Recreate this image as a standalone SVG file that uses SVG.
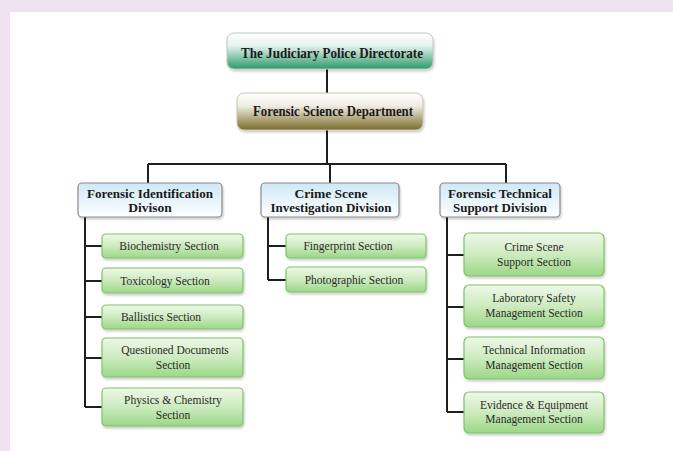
<svg xmlns="http://www.w3.org/2000/svg" width="673" height="451" viewBox="0 0 673 451">
<defs>
<linearGradient id="gTop" x1="0" y1="0" x2="0" y2="1">
<stop offset="0" stop-color="#ffffff"/><stop offset="0.35" stop-color="#e6f3ee"/><stop offset="1" stop-color="#2b9a6c"/>
</linearGradient>
<linearGradient id="gDept" x1="0" y1="0" x2="0" y2="1">
<stop offset="0" stop-color="#ffffff"/><stop offset="0.35" stop-color="#efece2"/><stop offset="1" stop-color="#7a6b28"/>
</linearGradient>
<linearGradient id="gDiv" x1="0" y1="0" x2="0" y2="1">
<stop offset="0" stop-color="#cfe8f7"/><stop offset="1" stop-color="#ffffff"/>
</linearGradient>
<linearGradient id="gSec" x1="0" y1="0" x2="0" y2="1">
<stop offset="0" stop-color="#eef8e8"/><stop offset="0.5" stop-color="#cdebbf"/><stop offset="1" stop-color="#9bd787"/>
</linearGradient>
<filter id="sh" x="-10%" y="-20%" width="120%" height="150%">
<feDropShadow dx="1" dy="2" stdDeviation="1.2" flood-color="#000" flood-opacity="0.2"/>
</filter>
</defs>
<style>
.top{fill:url(#gTop);stroke:#b9c9c2;stroke-width:1;filter:url(#sh)}
.dept{fill:url(#gDept);stroke:#c8c4b6;stroke-width:1;filter:url(#sh)}
.div{fill:url(#gDiv);stroke:#8a8a8a;stroke-width:1.2;filter:url(#sh)}
.sec{fill:url(#gSec);stroke:#7cc36a;stroke-width:1.2;filter:url(#sh)}
.h{font-family:"Liberation Serif",serif;font-weight:bold;fill:#1a1a1a;text-anchor:middle}
.s{font-family:"Liberation Serif",serif;font-size:11.5px;fill:#2a2a2a;text-anchor:middle}
.c{stroke:#1e1e1e;stroke-width:2;fill:none}
</style>
<rect x="0" y="0" width="673" height="451" fill="#eee2f0"/>
<rect x="10" y="12" width="663" height="439" fill="#ffffff"/>

<g id="connectors">
<path class="c" d="M327 69V93M327 130V164M148 164H506M148 164V183M330 164V183M506 164V183"/>
<path class="c" d="M85 217V407M85 246H102M85 281H102M85 317H102M85 358H102M85 407H102"/>
<path class="c" d="M268 217V280M268 246H286M268 280H286"/>
<path class="c" d="M447 217V412M447 255H464M447 307H464M447 359H464M447 412H464"/>
</g>

<g id="judiciary">
<rect class="top" x="227" y="33" width="206" height="36" rx="7"/>
<text class="h" x="332" y="57.5" font-size="14.5" textLength="182" lengthAdjust="spacingAndGlyphs">The Judiciary Police Directorate</text>
</g>
<g id="forensic-science">
<rect class="dept" x="237" y="93" width="186" height="37" rx="7"/>
<text class="h" x="333" y="116" font-size="14.5" textLength="160" lengthAdjust="spacingAndGlyphs">Forensic Science Department</text>
</g>

<g id="div-identification">
<rect class="div" x="78" y="183" width="144" height="34" rx="4"/>
<text class="h" x="150" y="198" font-size="13.5" textLength="126" lengthAdjust="spacingAndGlyphs">Forensic Identification</text>
<text class="h" x="150" y="212" font-size="13.5">Divison</text>
</g>
<g id="div-crime-scene">
<rect class="div" x="261" y="183" width="138" height="34" rx="4"/>
<text class="h" x="331" y="198" font-size="13.5">Crime Scene</text>
<text class="h" x="331" y="212" font-size="13.5" textLength="121" lengthAdjust="spacingAndGlyphs">Investigation Division</text>
</g>
<g id="div-technical">
<rect class="div" x="440" y="183" width="120" height="34" rx="4"/>
<text class="h" x="500" y="198" font-size="13.5" textLength="104" lengthAdjust="spacingAndGlyphs">Forensic Technical</text>
<text class="h" x="500" y="212" font-size="13.5" textLength="94" lengthAdjust="spacingAndGlyphs">Support Division</text>
</g>

<g id="sec-biochemistry">
<rect class="sec" x="102" y="234" width="141" height="24" rx="4"/>
<text class="s" x="169" y="250">Biochemistry Section</text>
</g>
<g id="sec-toxicology">
<rect class="sec" x="102" y="268" width="141" height="25" rx="4"/>
<text class="s" x="165" y="284.5">Toxicology Section</text>
</g>
<g id="sec-ballistics">
<rect class="sec" x="102" y="305" width="141" height="24" rx="4"/>
<text class="s" x="161" y="321">Ballistics Section</text>
</g>
<g id="sec-questioned">
<rect class="sec" x="102" y="338" width="141" height="39" rx="4"/>
<text class="s" x="175" y="354">Questioned Documents</text>
<text class="s" x="173" y="368.5">Section</text>
</g>
<g id="sec-physics">
<rect class="sec" x="102" y="388" width="141" height="38" rx="4"/>
<text class="s" x="173" y="404">Physics &amp; Chemistry</text>
<text class="s" x="173" y="418.5">Section</text>
</g>

<g id="sec-fingerprint">
<rect class="sec" x="286" y="234" width="140" height="24" rx="4"/>
<text class="s" x="348" y="250">Fingerprint Section</text>
</g>
<g id="sec-photographic">
<rect class="sec" x="286" y="267" width="140" height="25" rx="4"/>
<text class="s" x="354" y="283.5">Photographic Section</text>
</g>

<g id="sec-cs-support">
<rect class="sec" x="464" y="233" width="140" height="43" rx="5"/>
<text class="s" x="534" y="251">Crime Scene</text>
<text class="s" x="534" y="265.5">Support Section</text>
</g>
<g id="sec-lab-safety">
<rect class="sec" x="464" y="285" width="140" height="42" rx="5"/>
<text class="s" x="534" y="302">Laboratory Safety</text>
<text class="s" x="534" y="316.5">Management Section</text>
</g>
<g id="sec-tech-info">
<rect class="sec" x="464" y="337" width="140" height="42" rx="5"/>
<text class="s" x="534" y="354">Technical Information</text>
<text class="s" x="534" y="368.5">Management Section</text>
</g>
<g id="sec-evidence">
<rect class="sec" x="464" y="392" width="140" height="41" rx="5"/>
<text class="s" x="534" y="408.5">Evidence &amp; Equipment</text>
<text class="s" x="534" y="423">Management Section</text>
</g>
</svg>
